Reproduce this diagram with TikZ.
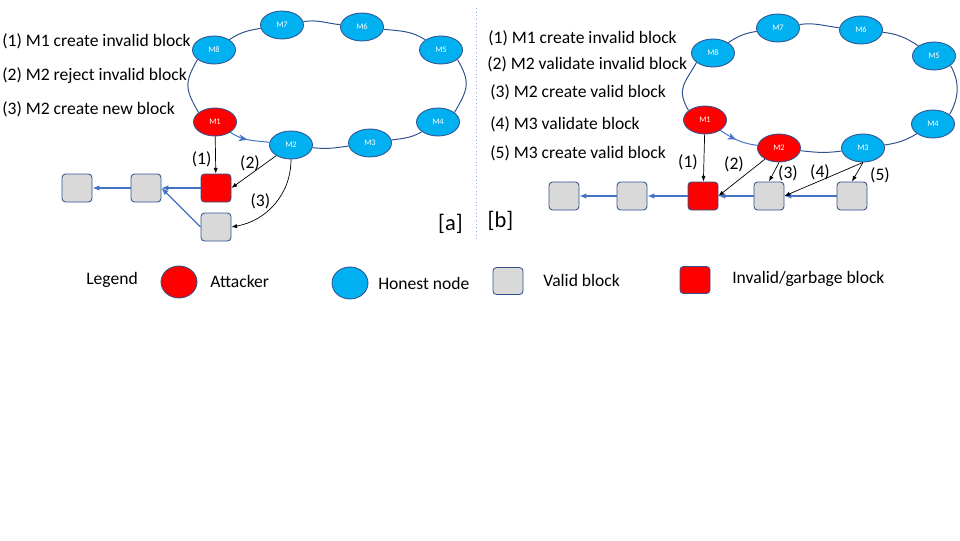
\documentclass[tikz,border=0pt]{standalone}
\usepackage{fontspec}
\setmainfont{Carlito}
\usepackage{tikz}
\usetikzlibrary{arrows.meta, shapes.geometric, decorations.markings}

\definecolor{honestblue}{HTML}{00B0F0}
\definecolor{outlineblue}{HTML}{2F528F}
\definecolor{chainblue}{HTML}{4472C4}
\definecolor{blockgray}{HTML}{D9D9D9}
\definecolor{sepblue}{HTML}{8FAADC}

\tikzset{
    honest/.style = {ellipse, draw = outlineblue, fill = honestblue, line width = 0.6pt, minimum width = 1.075cm, minimum height = 0.7cm, inner sep = 0pt, text = white, font = {\fontsize{6}{7}\selectfont}},
    attacker/.style = {honest, fill = red},
    validblock/.style = {rectangle, rounded corners = 2.5pt, draw = outlineblue, fill = blockgray, line width = 0.6pt, minimum width = 0.75cm, minimum height = 0.7cm, inner sep = 0pt},
    badblock/.style = {validblock, fill = red},
    ring/.style = {draw = outlineblue, line width = 0.7pt},
    ringarrow/.style = {ring, draw = chainblue, postaction = {decorate}, decoration = {markings, mark = at position 0.45 with {\arrow{Stealth[length = 6pt, width = 5pt]}}}},
    chain/.style = {draw = chainblue, line width = 0.9pt, -{Latex[length = 5pt, width = 4pt]}},
    act/.style = {draw = black, line width = 0.5pt, -{Latex[length = 4pt, width = 3pt]}},
    txt/.style = {font = {\fontsize{12.5}{15}\selectfont}, inner sep = 0pt},
    tag/.style = {font = {\fontsize{16}{19}\selectfont}, inner sep = 0pt},
}

\begin{document}
\begin{tikzpicture}
        \useasboundingbox (0, 0) rectangle (24, 13.5);

        \node[txt, anchor = west] (stepa1) at (0.05, 12.475) {(1) M1 create invalid block};
        \node[txt, anchor = west] (stepa2) at (0.05, 11.6) {(2) M2 reject invalid block};
        \node[txt, anchor = west] (stepa3) at (0.05, 10.775) {(3) M2 create new block};

        \node[attacker] (m1a) at (5.375, 10.45) {M1};
        \node[honest] (m2a) at (7.275, 9.875) {M2};
        \node[honest] (m3a) at (9.25, 9.925) {M3};
        \node[honest] (m4a) at (10.95, 10.45) {M4};
        \node[honest] (m5a) at (11.025, 12.25) {M5};
        \node[honest] (m6a) at (9.05, 12.825) {M6};
        \node[honest] (m7a) at (7.05, 12.875) {M7};
        \node[honest] (m8a) at (5.35, 12.25) {M8};

        \draw[ringarrow] (m1a) to[out = 326, in = 173] (m2a);
        \draw[ring] (m2a) to[out = 353, in = 188] (m3a);
        \draw[ring] (m3a) to[out = 8, in = 211] (m4a);
        \draw[ring] (m4a.30) to[out = 60, in = 300, looseness = 1.3] (m5a.330);
        \draw[ring] (m5a) to[out = 147, in = 354] (m6a);
        \draw[ring] (m6a) to[out = 174, in = 9] (m7a);
        \draw[ring] (m7a) to[out = 189, in = 34] (m8a);
        \draw[ring] (m8a.210) to[out = 240, in = 120, looseness = 1.3] (m1a.150);

        \node[validblock] (ba1) at (1.925, 8.8) {};
        \node[validblock] (ba2) at (3.65, 8.8) {};
        \node[badblock] (ba3) at (5.4, 8.8) {};
        \node[validblock] (ba4) at (5.4, 7.825) {};

        \draw[chain] (ba3) -- (ba2);
        \draw[chain] (ba2) -- (ba1);
        \draw[chain] (ba4.west) -- (ba2.east);

        \draw[act] (m1a) -- (ba3);
        \draw[act] (m2a) -- (ba3.east);
        \draw[act] (m2a.south) to[out = 270, in = 10] (ba4.east);

        \node[txt] (la1) at (5.04, 9.525) {(1)};
        \node[txt] (la2) at (6.25, 9.425) {(2)};
        \node[txt] (la3) at (6.51, 8.475) {(3)};
        \node[tag] (taga) at (11.26, 7.9) {[a]};

        \draw[sepblue, dotted, line width = 0.6pt] (11.9, 13.3) -- (11.9, 7.5);

        \node[txt, anchor = west] (stepb1) at (12.2, 12.55) {(1) M1 create invalid block};
        \node[txt, anchor = west] (stepb2) at (12.175, 11.9) {(2) M2 validate invalid block};
        \node[txt, anchor = west] (stepb3) at (12.25, 11.2) {(3) M2 create valid block};
        \node[txt, anchor = west] (stepb4) at (12.25, 10.4) {(4) M3 validate block};
        \node[txt, anchor = west] (stepb5) at (12.25, 9.675) {(5) M3 create valid block};

        \node[attacker] (m1b) at (17.625, 10.5) {M1};
        \node[attacker] (m2b) at (19.475, 9.8) {M2};
        \node[honest] (m3b) at (21.575, 9.8) {M3};
        \node[honest] (m4b) at (23.325, 10.4) {M4};
        \node[honest] (m5b) at (23.35, 12.1) {M5};
        \node[honest] (m6b) at (21.525, 12.75) {M6};
        \node[honest] (m7b) at (19.45, 12.8) {M7};
        \node[honest] (m8b) at (17.825, 12.175) {M8};

        \draw[ringarrow] (m1b) to[out = 326, in = 173] (m2b);
        \draw[ring] (m2b) to[out = 353, in = 188] (m3b);
        \draw[ring] (m3b) to[out = 8, in = 211] (m4b);
        \draw[ring] (m4b.30) to[out = 60, in = 300] (m5b.330);
        \draw[ring] (m5b) to[out = 147, in = 354] (m6b);
        \draw[ring] (m6b) to[out = 174, in = 9] (m7b);
        \draw[ring] (m7b) to[out = 189, in = 34] (m8b);
        \draw[ring] (m8b.210) to[out = 240, in = 120, looseness = 1.3] (m1b.150);

        \node[validblock] (bb1) at (14.1, 8.6) {};
        \node[validblock] (bb2) at (15.8, 8.6) {};
        \node[badblock] (bb3) at (17.575, 8.6) {};
        \node[validblock] (bb4) at (19.225, 8.6) {};
        \node[validblock] (bb5) at (21.3, 8.6) {};

        \draw[chain] (bb2) -- (bb1);
        \draw[chain] (bb3) -- (bb2);
        \draw[chain] (bb4) -- (bb3);
        \draw[chain] (bb5) -- (bb4);

        \draw[act] (m1b) -- (bb3);
        \draw[act] (m2b) -- (bb3.east);
        \draw[act] (m2b.south) -- (bb4.north);
        \draw[act] (m3b.south) -- (bb4.east);
        \draw[act] (m3b.south) -- (bb5.north);

        \node[txt] (lb1) at (17.2, 9.45) {(1)};
        \node[txt] (lb2) at (18.35, 9.4) {(2)};
        \node[txt] (lb3) at (19.7, 9.175) {(3)};
        \node[txt] (lb4) at (20.5, 9.2) {(4)};
        \node[txt] (lb5) at (22.0, 9.125) {(5)};
        \node[tag] (tagb) at (12.51, 7.975) {[b]};

        \node[txt, anchor = west] (legend) at (2.15, 6.5) {Legend};
        \node[attacker, minimum width = 0.9cm, minimum height = 0.8cm] (keyattacker) at (4.475, 6.45) {};
        \node[txt, anchor = west] (legattacker) at (5.25, 6.475) {Attacker};
        \node[honest, minimum width = 0.9cm, minimum height = 0.8cm] (keyhonest) at (8.75, 6.425) {};
        \node[txt, anchor = west] (leghonest) at (9.45, 6.425) {Honest node};
        \node[validblock, minimum height = 0.675cm] (keyvalid) at (12.7, 6.475) {};
        \node[txt, anchor = west] (legvalid) at (13.575, 6.5) {Valid block};
        \node[badblock, minimum height = 0.675cm] (keybad) at (17.375, 6.5) {};
        \node[txt, anchor = west] (legbad) at (18.3, 6.525) {Invalid/garbage block};
\end{tikzpicture}
\end{document}
